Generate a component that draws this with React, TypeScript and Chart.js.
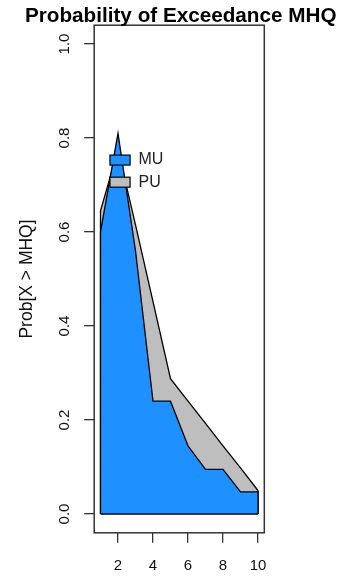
import React, { useEffect, useRef } from 'react';
import { Chart, registerables } from 'chart.js';

Chart.register(...registerables);

// ---- data ----
const xValues = [1, 2, 3, 4, 5, 6, 7, 8, 9, 10];
const muValues = [0.6, 0.81, 0.56, 0.24, 0.24, 0.145, 0.095, 0.095, 0.047, 0.047];
const puValues = [0.645, 0.775, 0.615, 0.452, 0.288, 0.24, 0.193, 0.145, 0.098, 0.05];
const seriesNames = ['MU', 'PU'];
const seriesColors = ['#1E90FF', '#BEBEBE'];
const xTicks = [2, 4, 6, 8, 10];
const yTicks = [0, 0.2, 0.4, 0.6, 0.8, 1.0];
const yTickLabels = ['0.0', '0.2', '0.4', '0.6', '0.8', '1.0'];
const titleText = 'Probability of Exceedance MHQ';
const yTitleText = 'Prob[X > MHQ]';

const FONT = '"Liberation Sans", Arial, Helvetica, sans-serif';

const polygon = (vals: number[]) => [
  { x: xValues[0], y: 0 },
  ...xValues.map((x, i) => ({ x, y: vals[i] })),
  { x: xValues[xValues.length - 1], y: 0 },
];

const decorations = {
  id: 'decorations',
  afterDraw(chart: any) {
    const { ctx, chartArea, scales } = chart;
    const xs = scales.x;
    const ys = scales.y;
    ctx.save();
    // plot box
    ctx.strokeStyle = '#333';
    ctx.lineWidth = 1.5;
    ctx.strokeRect(chartArea.left, chartArea.top, chartArea.right - chartArea.left, chartArea.bottom - chartArea.top);

    // title
    ctx.fillStyle = '#000';
    ctx.font = `bold 20.7px ${FONT}`;
    ctx.textAlign = 'center';
    ctx.textBaseline = 'alphabetic';
    ctx.fillText(titleText, (chartArea.left + chartArea.right) / 2 + 1.5, 22);

    // y tick labels (rotated)
    ctx.font = `15px ${FONT}`;
    ctx.fillStyle = '#111';
    yTicks.forEach((v, i) => {
      const y = ys.getPixelForValue(v);
      ctx.save();
      ctx.translate(65, y);
      ctx.rotate(-Math.PI / 2);
      ctx.textAlign = 'center';
      ctx.textBaseline = 'middle';
      ctx.fillText(yTickLabels[i], 0, 0);
      ctx.restore();
    });

    // y title
    ctx.font = `17.5px ${FONT}`;
    ctx.save();
    ctx.translate(27, (chartArea.top + chartArea.bottom) / 2);
    ctx.rotate(-Math.PI / 2);
    ctx.textAlign = 'center';
    ctx.textBaseline = 'middle';
    ctx.fillText(yTitleText, 0, 0);
    ctx.restore();

    // legend
    const bx0 = xs.getPixelForValue(1.54);
    const bx1 = xs.getPixelForValue(2.69);
    const tx = xs.getPixelForValue(3.17);
    const centers = [ys.getPixelForValue(0.753), ys.getPixelForValue(0.706)];
    ctx.font = `16px ${FONT}`;
    ctx.textAlign = 'left';
    ctx.textBaseline = 'middle';
    seriesNames.forEach((name, i) => {
      const cy = centers[i];
      ctx.fillStyle = seriesColors[i];
      ctx.fillRect(bx0, cy - 5, bx1 - bx0, 10);
      ctx.strokeStyle = '#000';
      ctx.lineWidth = 1.2;
      ctx.strokeRect(bx0, cy - 5, bx1 - bx0, 10);
      ctx.fillStyle = '#222';
      ctx.fillText(name, tx, cy);
    });
    ctx.restore();
  },
};

export default function App() {
  const canvasRef = useRef<HTMLCanvasElement | null>(null);

  useEffect(() => {
    if (!canvasRef.current) return;
    const chart = new Chart(canvasRef.current, {
      type: 'line',
      data: {
        datasets: [
          {
            label: 'base',
            data: [{ x: xValues[0], y: 0 }, { x: xValues[xValues.length - 1], y: 0 }],
            borderColor: '#000',
            borderWidth: 1.3,
            pointRadius: 0,
            fill: false,
          },
          {
            label: seriesNames[0],
            data: polygon(muValues),
            borderColor: '#000',
            borderWidth: 1.3,
            backgroundColor: seriesColors[0],
            pointRadius: 0,
            tension: 0,
            fill: 'origin',
          },
          {
            label: seriesNames[1],
            data: polygon(puValues),
            borderColor: '#000',
            borderWidth: 1.3,
            backgroundColor: seriesColors[1],
            pointRadius: 0,
            tension: 0,
            fill: 'origin',
          },
        ],
      },
      options: {
        responsive: false,
        animation: false,
        layout: { padding: { left: 0, top: 25.2, right: 76.7, bottom: 0 } },
        plugins: { legend: { display: false }, tooltip: { enabled: false }, title: { display: false } },
        scales: {
          x: {
            type: 'linear',
            min: 0.64,
            max: 10.36,
            afterBuildTicks: (s: any) => {
              s.ticks = xTicks.map((v) => ({ value: v }));
            },
            afterFit: (s: any) => {
              s.height = 44.2;
            },
            ticks: {
              color: '#111',
              font: { family: FONT, size: 15 },
              padding: 14,
              maxRotation: 0,
              autoSkip: false,
            },
            grid: { drawOnChartArea: false, drawTicks: true, tickLength: 10, color: '#333', lineWidth: 1.3 },
            border: { display: false },
          },
          y: {
            type: 'linear',
            min: -0.04,
            max: 1.04,
            afterBuildTicks: (s: any) => {
              s.ticks = yTicks.map((v) => ({ value: v }));
            },
            afterFit: (s: any) => {
              s.width = 94.2;
            },
            ticks: { display: false },
            grid: { drawOnChartArea: false, drawTicks: true, tickLength: 10, color: '#333', lineWidth: 1.3 },
            border: { display: false },
          },
        },
      },
      plugins: [decorations],
    });
    return () => chart.destroy();
  }, []);

  return (
    <div style={{ position: 'absolute', left: 0, top: 0, width: 341, height: 577, background: '#fff' }}>
      <canvas ref={canvasRef} width={341} height={577} />
    </div>
  );
}
